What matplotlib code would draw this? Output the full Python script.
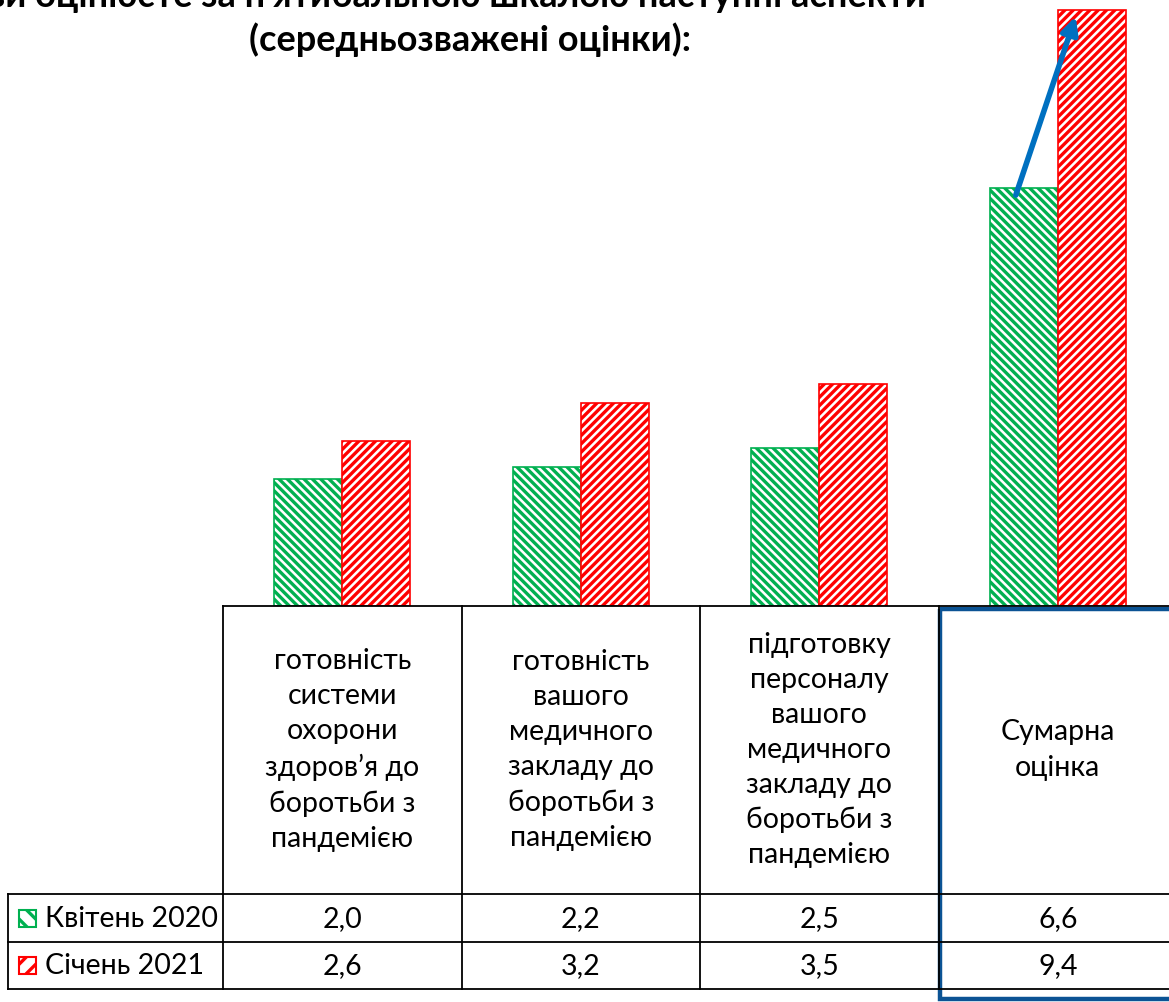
import matplotlib
matplotlib.use("Agg")
import matplotlib.pyplot as plt
from matplotlib.patches import Rectangle
import numpy as np

categories = [
    "готовність\nсистеми\nохорони\nздоров’я до\nборотьби з\nпандемією",
    "готовність\nвашого\nмедичного\nзакладу до\nборотьби з\nпандемією",
    "підготовку\nперсоналу\nвашого\nмедичного\nзакладу до\nборотьби з\nпандемією",
    "Сумарна\nоцінка",
]
series_names = ["Квітень 2020", "Січень 2021"]
april_2020 = [2.0, 2.2, 2.5, 6.6]
january_2021 = [2.6, 3.2, 3.5, 9.4]
title_line1 = "Як ви оцінюєте за п’ятибальною шкалою наступні аспекти"
title_line2 = "(середньозважені оцінки):"

plt.rcParams['font.family'] = ['Lato', 'DejaVu Sans']
plt.rcParams['hatch.linewidth'] = 2.4

W, H = 1169, 1003
fig = plt.figure(figsize=(W / 100, H / 100), dpi=100)

# layout in pixels
base_y = 607
px_per_unit = 63.4
col_left = 223
col_w = 238.5
ncat = len(categories)

ax = fig.add_axes([col_left / W, (H - base_y) / H, ncat * col_w / W, base_y / H])
ax.set_xlim(-0.5, ncat - 0.5)
ax.set_ylim(0, base_y / px_per_unit)
ax.axis('off')

x = np.arange(ncat)
bw = 0.285
green = '#00B050'
red = '#FF0000'
ax.bar(x - bw / 2, april_2020, bw, facecolor='white', edgecolor=green, hatch='\\\\\\\\', linewidth=1.2)
ax.bar(x + bw / 2, january_2021, bw, facecolor='white', edgecolor=red, hatch='////', linewidth=1.2)

# arrow from April total to January total
ax.annotate('', xy=(x[-1] + 0.075, january_2021[-1] - 0.1), xytext=(x[-1] - 0.176, april_2020[-1] - 0.12),
            arrowprops=dict(arrowstyle='-|>,head_length=1.0,head_width=0.5', color='#0070C0', lw=4,
                            shrinkA=0, shrinkB=0))

# overlay axes in pixel coordinates for the data table
ov = fig.add_axes([0, 0, 1, 1], zorder=5)
ov.set_xlim(0, W)
ov.set_ylim(H, 0)
ov.axis('off')
ov.patch.set_alpha(0)

row_top = base_y
row_hdr = 895
row1 = 943
row2 = 990
leg_left = 8
col_edges = [col_left + i * col_w for i in range(ncat + 1)]
lc = 'black'
lw = 1.3
# horizontal lines
ov.plot([col_left, W], [row_top, row_top], color=lc, lw=lw)
for yy in (row_hdr, row1, row2):
    ov.plot([leg_left, W], [yy, yy], color=lc, lw=lw)
# vertical lines
ov.plot([leg_left, leg_left], [row_hdr, row2], color=lc, lw=lw)
for xe in col_edges[:-1]:
    ov.plot([xe, xe], [row_top, row2], color=lc, lw=lw)

fs = 20.5
for i, cat in enumerate(categories):
    cx = col_edges[i] + col_w / 2
    ov.text(cx, (row_top + row_hdr) / 2 - 1, cat, ha='center', va='center', fontsize=fs,
            linespacing=1.43)
    ov.text(cx, (row_hdr + row1) / 2, f"{april_2020[i]:.1f}".replace('.', ','), ha='center', va='center', fontsize=fs)
    ov.text(cx, (row1 + row2) / 2, f"{january_2021[i]:.1f}".replace('.', ','), ha='center', va='center', fontsize=fs)

# legend keys
for (yy0, yy1), name, col, hatch in [((row_hdr, row1), series_names[0], green, '\\\\'),
                                      ((row1, row2), series_names[1], red, '//')]:
    cy = (yy0 + yy1) / 2
    ov.add_patch(Rectangle((19, cy - 8.5), 17, 17, facecolor='white', edgecolor=col, hatch=hatch, lw=1.5))
    ov.text(45, cy, name, ha='left', va='center', fontsize=fs)

# highlight box around the total column
ov.add_patch(Rectangle((940, 610), 260, 390, fill=False, edgecolor='#0B5394', lw=3.2))

# titles
fig.text(0.368, 1 - 7 / H, title_line1, ha='center', va='baseline', fontsize=26, fontweight='bold')
fig.text(470 / W, 1 - 40 / H, title_line2, ha='center', va='center', fontsize=26, fontweight='bold')

fig.savefig('out.png', dpi=100)
